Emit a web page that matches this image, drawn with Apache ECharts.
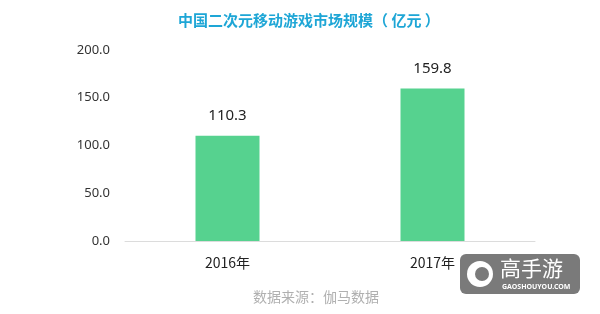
<!DOCTYPE html>
<html><head><meta charset="utf-8">
<script src="https://cdn.jsdelivr.net/npm/echarts@6/dist/echarts.min.js"></script>
<style>html,body{margin:0;padding:0;background:#fff}#c{width:600px;height:314px}</style>
</head><body><div id="c"></div>
<script>
const categories = ['2016年', '2017年'];
const values = [110.3, 159.8];
const yTicks = [0, 50, 100, 150, 200];
const titleText = '中国二次元移动游戏市场规模（ 亿元 ）';
const sourceText = '数据来源：伽马数据';

const chart = echarts.init(document.getElementById('c'));
chart.setOption({
  animation: false,
  backgroundColor: '#fff',
  title: {
    text: titleText, left: 173, top: 8,
    textStyle: { color: '#1ea6d6', fontSize: 15, fontWeight: 'bold', fontFamily: 'Noto Sans CJK SC' }
  },
  grid: { left: 125, right: 65, top: 50, bottom: 73 },
  xAxis: {
    type: 'category', data: categories,
    axisLine: { lineStyle: { color: '#dcdcdc' } },
    axisTick: { show: false },
    axisLabel: { color: '#222', fontSize: 14, margin: 15, fontFamily: 'Noto Sans CJK SC' }
  },
  yAxis: {
    type: 'value', min: yTicks[0], max: yTicks[yTicks.length - 1], interval: 50,
    splitLine: { show: false },
    axisLine: { show: false }, axisTick: { show: false },
    axisLabel: { color: '#333', fontSize: 13, margin: 15, formatter: v => v.toFixed(1), fontFamily: 'Noto Sans' }
  },
  series: [{
    type: 'bar', data: values, barWidth: 64,
    itemStyle: { color: '#56d28f' },
    label: { show: true, position: 'top', distance: 12, color: '#222', fontSize: 15, formatter: p => p.value.toFixed(1), fontFamily: 'Noto Sans' }
  }],
  graphic: [
    { type: 'text', left: 253, top: 290, style: { text: sourceText, fill: '#b0b0b0', fontSize: 14, fontFamily: 'Noto Sans CJK SC' } },
    { type: 'group', left: 460, top: 254, children: [
      { type: 'rect', shape: { x: 0, y: 0, width: 120, height: 40, r: 6 }, style: { fill: '#7a7a7a' } },
      { type: 'circle', shape: { cx: 20, cy: 20, r: 13 }, style: { fill: '#fff' } },
      { type: 'circle', shape: { cx: 22, cy: 20, r: 7 }, style: { fill: '#7a7a7a' } },
      { type: 'text', x: 40, y: 4, style: { text: '高手游', fill: '#fff', fontSize: 21, fontFamily: 'Noto Sans CJK SC' } },
      { type: 'text', x: 42, y: 29, style: { text: 'GAOSHOUYOU.COM', fill: '#fff', fontSize: 7, fontWeight: 'bold', fontFamily: 'Noto Sans' } }
    ]}
  ]
});
</script></body></html>
